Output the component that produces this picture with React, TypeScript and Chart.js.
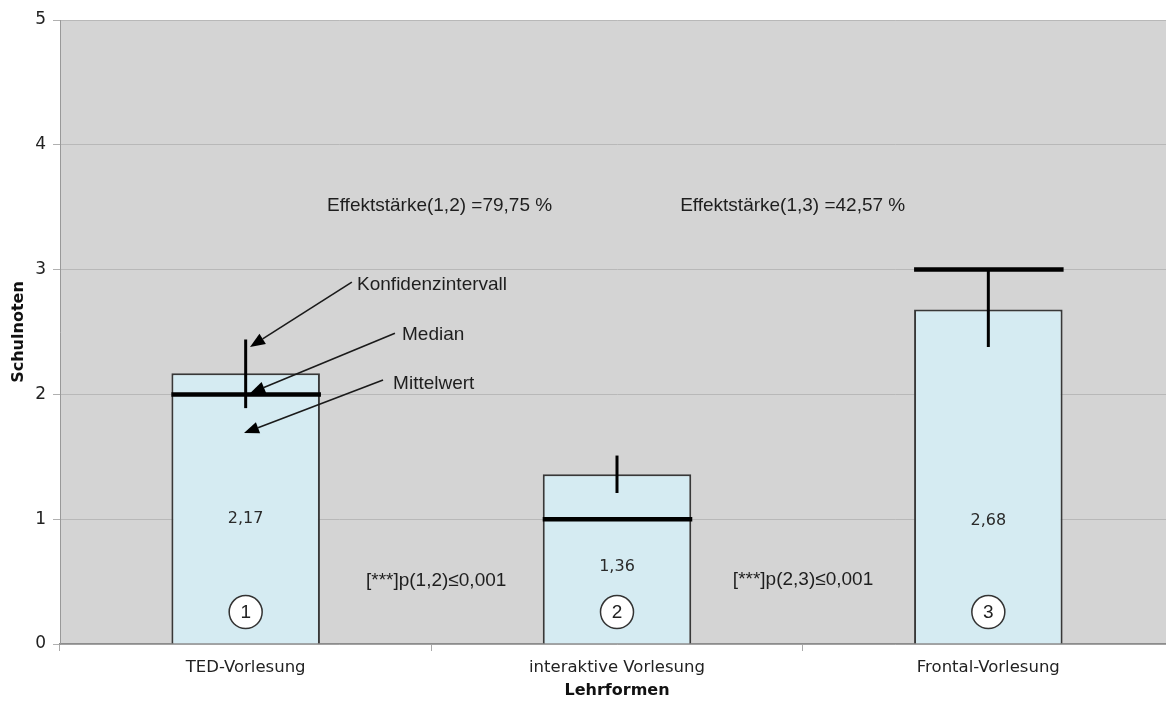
import React, { useEffect, useRef } from "react";
import { Chart, registerables } from "chart.js";

Chart.register(...registerables);

// ---- data ----
const categories = ["TED-Vorlesung", "interaktive Vorlesung", "Frontal-Vorlesung"];
const means = [2.17, 1.36, 2.68];
const medians = [2, 1, 3];
const ciLow = [1.89, 1.21, 2.38];
const ciHigh = [2.44, 1.51, 2.99];
const groupNumbers = ["1", "2", "3"];
const effectLabels = ["Effektstärke(1,2) =79,75 %", "Effektstärke(1,3) =42,57 %"];
const pLabels = ["[***]p(1,2)≤0,001", "[***]p(2,3)≤0,001"];
const legendLabels = ["Konfidenzintervall", "Median", "Mittelwert"];
const yTitle = "Schulnoten";
const xTitle = "Lehrformen";

const fmt = (v: number) => v.toFixed(2).replace(".", ",");

const overlayPlugin = {
  id: "overlay",
  beforeDraw(chart: any) {
    const { ctx, chartArea: a } = chart;
    ctx.save();
    ctx.fillStyle = "#ffffff";
    ctx.fillRect(0, 0, chart.width, chart.height);
    ctx.fillStyle = "#d4d4d4";
    ctx.fillRect(a.left, a.top, a.right - a.left, a.bottom - a.top);
    ctx.restore();
  },
  afterDatasetsDraw(chart: any) {
    const { ctx } = chart;
    const xs = chart.scales.x;
    const ys = chart.scales.y;
    const meta = chart.getDatasetMeta(0);
    const X = (v: number) => xs.getPixelForValue(v);
    const Y = (v: number) => ys.getPixelForValue(v);
    ctx.save();

    // medians and confidence intervals
    meta.data.forEach((bar: any, i: number) => {
      const half = bar.width / 2;
      ctx.strokeStyle = "#000";
      ctx.lineCap = "butt";
      ctx.lineWidth = 3;
      ctx.beginPath();
      ctx.moveTo(bar.x, Y(ciHigh[i]));
      ctx.lineTo(bar.x, Y(ciLow[i]));
      ctx.stroke();
      ctx.lineWidth = 4.5;
      ctx.beginPath();
      ctx.moveTo(bar.x - half, Y(medians[i]));
      ctx.lineTo(bar.x + half + 1, Y(medians[i]));
      ctx.stroke();
    });

    // value labels
    const valueLabelY = [1.0, 0.62, 0.99];
    ctx.font = "16px 'DejaVu Sans'";
    ctx.fillStyle = "#2a2a2a";
    ctx.textAlign = "center";
    ctx.textBaseline = "middle";
    meta.data.forEach((bar: any, i: number) => {
      ctx.fillText(fmt(means[i]), bar.x, Y(valueLabelY[i]));
    });

    // circled group numbers
    meta.data.forEach((bar: any, i: number) => {
      const cy = Y(0.256);
      ctx.beginPath();
      ctx.arc(bar.x, cy, 16.5, 0, Math.PI * 2);
      ctx.fillStyle = "#fff";
      ctx.fill();
      ctx.lineWidth = 1.5;
      ctx.strokeStyle = "#333";
      ctx.stroke();
      ctx.fillStyle = "#222";
      ctx.font = "19px 'Liberation Sans'";
      ctx.textAlign = "center";
      ctx.textBaseline = "middle";
      ctx.fillText(groupNumbers[i], bar.x, cy + 1);
    });

    // annotation texts
    ctx.font = "19px 'Liberation Sans'";
    ctx.fillStyle = "#1e1e1e";
    ctx.textAlign = "left";
    ctx.textBaseline = "alphabetic";
    const effPos = [[0.219, 3.47], [1.17, 3.47]];
    effectLabels.forEach((t, i) => ctx.fillText(t, X(effPos[i][0]), Y(effPos[i][1])));
    const pPos = [[0.324, 0.465], [1.312, 0.473]];
    pLabels.forEach((t, i) => ctx.fillText(t, X(pPos[i][0]), Y(pPos[i][1])));
    const legPos = [[0.3, 2.837], [0.421, 2.436], [0.397, 2.043]];
    legendLabels.forEach((t, i) => ctx.fillText(t, X(legPos[i][0]), Y(legPos[i][1])));

    // arrows
    const arrows = [
      [0.286, 2.9, 0.0117, 2.38],
      [0.402, 2.49, 0.0117, 2.01],
      [0.37, 2.115, -0.0045, 1.69],
    ];
    arrows.forEach(([x1, y1, x2, y2]) => {
      const sx = X(x1), sy = Y(y1), ex = X(x2), ey = Y(y2);
      const ang = Math.atan2(ey - sy, ex - sx);
      const len = 15, hw = 6;
      const bx = ex - len * Math.cos(ang), by = ey - len * Math.sin(ang);
      ctx.strokeStyle = "#1a1a1a";
      ctx.lineWidth = 1.6;
      ctx.beginPath();
      ctx.moveTo(sx, sy);
      ctx.lineTo(bx, by);
      ctx.stroke();
      ctx.fillStyle = "#000";
      ctx.beginPath();
      ctx.moveTo(ex, ey);
      ctx.lineTo(bx + hw * Math.sin(ang), by - hw * Math.cos(ang));
      ctx.lineTo(bx - hw * Math.sin(ang), by + hw * Math.cos(ang));
      ctx.closePath();
      ctx.fill();
    });

    ctx.restore();
  },
};

export default function App() {
  const ref = useRef<HTMLCanvasElement | null>(null);
  useEffect(() => {
    document.body.style.overflow = "hidden";
    const canvas = ref.current;
    if (!canvas) return;
    const chart = new Chart(canvas, {
      type: "bar",
      data: {
        labels: categories,
        datasets: [
          {
            data: means,
            backgroundColor: "#d5ebf2",
            borderColor: "#383838",
            borderWidth: 2,
            barPercentage: 0.4,
            categoryPercentage: 1,
          },
        ],
      },
      options: {
        responsive: false,
        animation: false,
        layout: { padding: { top: 20, left: 0, right: 0, bottom: 0 } },
        plugins: { legend: { display: false }, tooltip: { enabled: false } },
        scales: {
          x: {
            grid: {
              display: true,
              drawOnChartArea: false,
              drawTicks: true,
              tickLength: 7,
              offset: true,
              color: "#aaaaaa",
            },
            border: { display: true, color: "#8c8c8c", width: 1.5 },
            ticks: {
              padding: 7,
              color: "#222",
              font: { family: "'DejaVu Sans'", size: 16.5 },
            },
            title: {
              display: true,
              text: xTitle,
              color: "#111",
              font: { family: "'DejaVu Sans'", size: 16, weight: "bold" },
              padding: { top: 0, bottom: 4 },
            },
            afterFit: (s: any) => {
              s.height = 60;
            },
          },
          y: {
            min: 0,
            max: 5,
            ticks: {
              stepSize: 1,
              padding: 7,
              color: "#222",
              font: { family: "'DejaVu Sans'", size: 17 },
            },
            grid: { color: "#b8b8b8", tickLength: 7, tickColor: "#b0b0b0" },
            border: { display: true, color: "#999", width: 1 },
            title: {
              display: true,
              text: yTitle,
              color: "#111",
              font: { family: "'DejaVu Sans'", size: 16, weight: "bold" },
              padding: { top: 9, bottom: 0 },
            },
            afterFit: (s: any) => {
              s.width = 60;
            },
          },
        },
      },
      plugins: [overlayPlugin],
    });
    return () => chart.destroy();
  }, []);
  return (
    <div style={{ position: "fixed", left: 0, top: 0, width: 1174, height: 704 }}>
      <canvas ref={ref} width={1174} height={704} style={{ display: "block" }} />
    </div>
  );
}
